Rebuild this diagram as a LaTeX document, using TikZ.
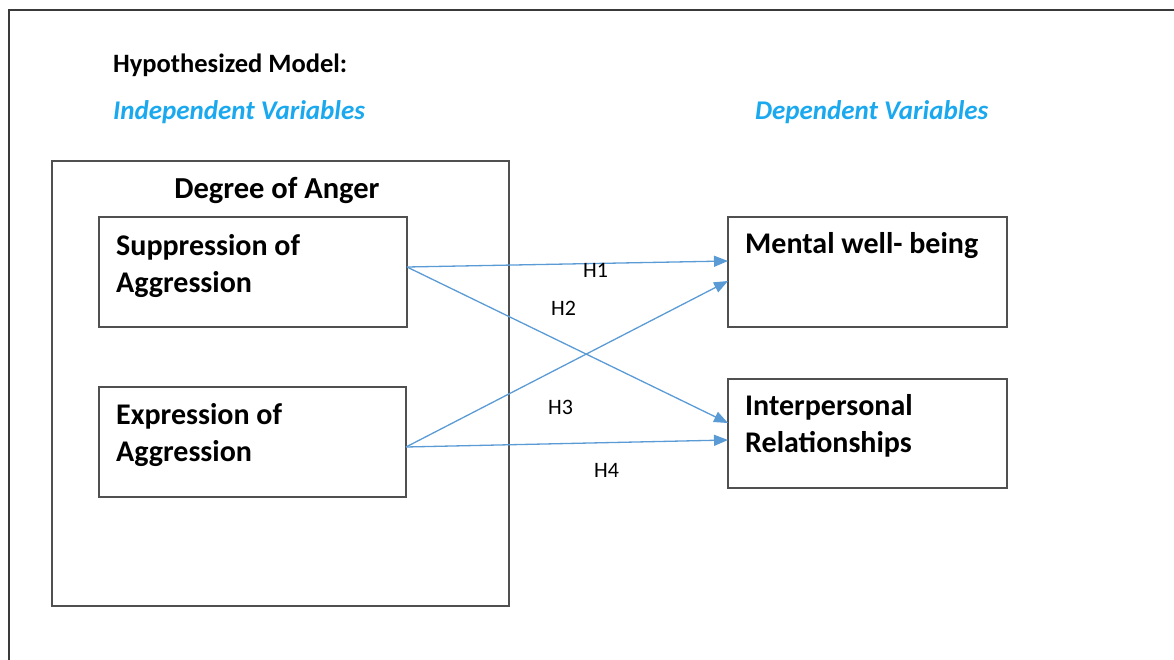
\documentclass[tikz,border=0pt]{standalone}
\usepackage{fontspec}
\setmainfont{Carlito}
\usetikzlibrary{arrows.meta}
\definecolor{framegray}{HTML}{3A3A3A}
\definecolor{boxgray}{HTML}{505050}
\definecolor{headcyan}{HTML}{1AA8EE}
\definecolor{arrowblue}{HTML}{5B9BD5}
\tikzset{
  box/.style={draw=boxgray, line width=1.3pt, rectangle, inner sep=0pt, outer sep=0pt},
  boxtext/.style={anchor=base west, inner sep=0pt, font=\fontsize{30}{36.5}\selectfont\bfseries, align=left},
  headtext/.style={anchor=base west, inner sep=0pt, font=\fontsize{27}{32}\selectfont\bfseries\itshape, text=headcyan},
  hlabel/.style={anchor=base west, inner sep=0pt, font=\fontsize{22}{26}\selectfont},
  link/.style={draw=arrowblue, line width=1.3pt, -{Triangle[length=14pt,width=11pt]}}
}
\begin{document}
\begin{tikzpicture}[x=1pt,y=-1pt]
\useasboundingbox (0,0) rectangle (1174,660);
% outer frame (runs off the right and bottom edges)
\draw[framegray, line width=2pt] (9,660) -- (9,10) -- (1174,10);
% titles
\node[anchor=base west, inner sep=0pt, font=\fontsize{26.5}{31}\selectfont\bfseries] (title) at (113,73) {Hypothesized Model:};
\node[headtext] (indep) at (113,120) {Independent Variables};
\node[headtext] (dep) at (755,120) {Dependent Variables};
% big box
\node[box, minimum width=457pt, minimum height=445pt] (anger) at (280.5,383.5) {};
\node[anchor=base, inner sep=0pt, font=\fontsize{30.5}{36}\selectfont\bfseries] (angertitle) at (277,199) {Degree of Anger};
% left boxes
\node[box, fill=white, minimum width=308pt, minimum height=110pt] (sup) at (253,272) {};
\node[boxtext] (suptext) at (116,292) {Suppression of\\Aggression};
\node[box, fill=white, minimum width=307pt, minimum height=110pt] (expr) at (252.5,442) {};
\node[boxtext] (exprtext) at (116,461) {Expression of\\Aggression};
% right boxes
\node[box, minimum width=279pt, minimum height=110pt] (mental) at (867.5,272) {};
\draw[boxgray, line width=2.4pt] (mental.north east) -- (mental.south east) -- (mental.south west);
\node[boxtext] (mentaltext) at (745,253) {Mental well- being};
\node[box, minimum width=279pt, minimum height=109pt] (inter) at (867.5,433.5) {};
\node[boxtext] (intertext) at (745,452) {Interpersonal\\Relationships};
% connectors
\draw[link] ([yshift=5pt]sup.east) -- ([yshift=11pt]mental.west);
\draw[link] ([yshift=5pt]sup.east) -- ([yshift=10.5pt]inter.west);
\draw[link] ([yshift=-5pt]expr.east) -- ([yshift=-9pt]mental.west);
\draw[link] ([yshift=-5pt]expr.east) -- ([yshift=-6.5pt]inter.west);
% labels
\node[hlabel] (h1) at (583,277) {H1};
\node[hlabel] (h2) at (551,315) {H2};
\node[hlabel] (h3) at (548,414) {H3};
\node[hlabel] (h4) at (594,477) {H4};
\end{tikzpicture}
\end{document}
